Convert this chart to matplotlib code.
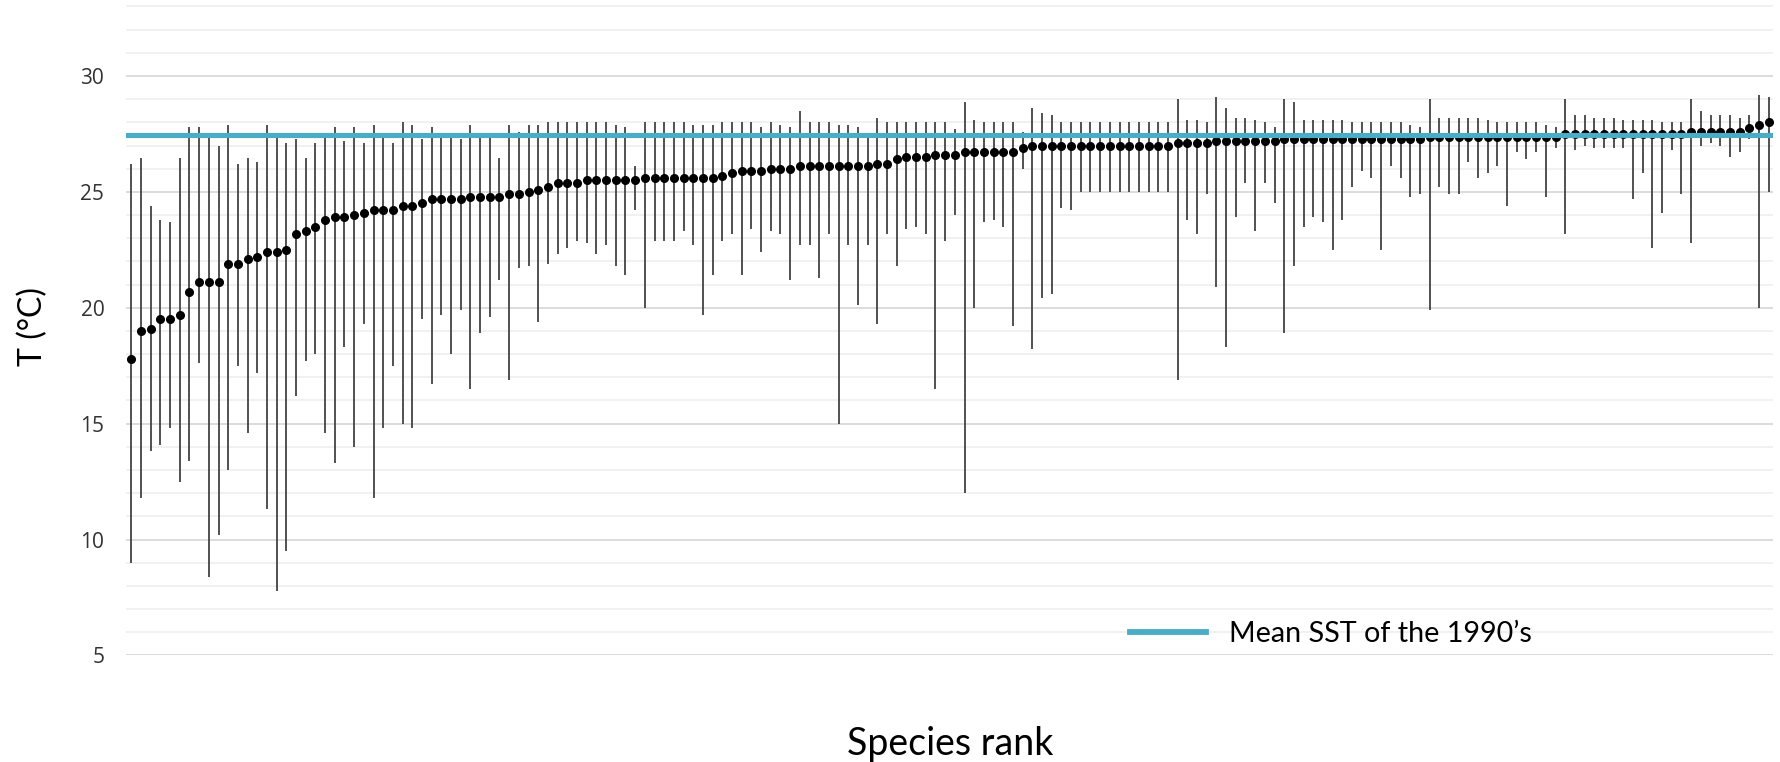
import numpy as np
import matplotlib
matplotlib.use("Agg")
import matplotlib.pyplot as plt
from matplotlib.lines import Line2D

# Thermal range of each species: mean temperature, upper and lower limits (°C),
# species ordered by mean temperature
mean_temp = [
    17.8, 19.0, 19.1, 19.5, 19.5, 19.7, 20.7, 21.1, 21.1, 21.1,
    21.9, 21.9, 22.1, 22.2, 22.4, 22.4, 22.5, 23.2, 23.3, 23.5,
    23.8, 23.9, 23.9, 24.0, 24.1, 24.2, 24.2, 24.2, 24.4, 24.4,
    24.5, 24.7, 24.7, 24.7, 24.7, 24.8, 24.8, 24.8, 24.8, 24.9,
    24.9, 25.0, 25.1, 25.2, 25.4, 25.4, 25.4, 25.5, 25.5, 25.5,
    25.5, 25.5, 25.5, 25.6, 25.6, 25.6, 25.6, 25.6, 25.6, 25.6,
    25.6, 25.7, 25.8, 25.9, 25.9, 25.9, 26.0, 26.0, 26.0, 26.1,
    26.1, 26.1, 26.1, 26.1, 26.1, 26.1, 26.1, 26.2, 26.2, 26.4,
    26.5, 26.5, 26.5, 26.6, 26.6, 26.6, 26.7, 26.7, 26.7, 26.7,
    26.7, 26.7, 26.9, 27.0, 27.0, 27.0, 27.0, 27.0, 27.0, 27.0,
    27.0, 27.0, 27.0, 27.0, 27.0, 27.0, 27.0, 27.0, 27.1, 27.1,
    27.1, 27.1, 27.2, 27.2, 27.2, 27.2, 27.2, 27.2, 27.2, 27.3,
    27.3, 27.3, 27.3, 27.3, 27.3, 27.3, 27.3, 27.3, 27.3, 27.3,
    27.3, 27.3, 27.3, 27.3, 27.35, 27.35, 27.35, 27.35, 27.35, 27.35,
    27.35, 27.35, 27.35, 27.35, 27.35, 27.35, 27.35, 27.35, 27.5, 27.5,
    27.5, 27.5, 27.5, 27.5, 27.5, 27.5, 27.5, 27.5, 27.5, 27.5,
    27.5, 27.6, 27.6, 27.6, 27.6, 27.6, 27.6, 27.75, 27.9, 28.0,
]

max_temp = [
    26.2, 26.45, 24.4, 23.8, 23.7, 26.45, 27.8, 27.8, 27.4, 27.0,
    27.9, 26.2, 26.45, 26.3, 27.9, 27.4, 27.1, 27.3, 26.45, 27.1,
    27.4, 27.8, 27.2, 27.8, 27.1, 27.9, 27.4, 27.1, 28.0, 27.9,
    27.3, 27.8, 27.4, 27.4, 27.3, 27.9, 27.4, 27.4, 26.45, 27.9,
    27.6, 27.9, 27.9, 28.0, 28.0, 28.0, 28.0, 28.0, 28.0, 28.0,
    27.9, 27.8, 26.1, 28.0, 28.0, 28.0, 28.0, 28.0, 27.9, 27.9,
    27.9, 28.0, 28.0, 28.0, 28.0, 27.8, 28.0, 27.9, 27.8, 28.5,
    28.0, 28.0, 28.0, 27.9, 27.9, 27.8, 27.4, 28.2, 28.0, 28.0,
    28.0, 28.0, 28.0, 28.0, 28.0, 27.7, 28.9, 28.1, 28.0, 28.0,
    28.0, 28.0, 27.6, 28.6, 28.4, 28.3, 28.0, 28.0, 28.0, 28.0,
    28.0, 28.0, 28.0, 28.0, 28.0, 28.0, 28.0, 28.0, 29.0, 28.1,
    28.1, 28.0, 29.1, 28.6, 28.2, 28.2, 28.1, 28.0, 27.8, 29.0,
    28.9, 28.1, 28.1, 28.1, 28.1, 28.1, 28.0, 28.0, 28.0, 28.0,
    28.0, 28.0, 27.9, 27.8, 29.0, 28.2, 28.2, 28.2, 28.2, 28.2,
    28.1, 28.0, 28.0, 28.0, 28.0, 28.0, 27.9, 27.8, 29.0, 28.3,
    28.3, 28.2, 28.2, 28.2, 28.1, 28.1, 28.1, 28.1, 28.0, 28.0,
    28.0, 29.0, 28.5, 28.3, 28.3, 28.3, 28.2, 28.3, 29.2, 29.1,
]

min_temp = [
    9.0, 11.8, 13.8, 14.1, 14.8, 12.5, 13.4, 17.6, 8.4, 10.2,
    13.0, 17.5, 14.6, 17.2, 11.3, 7.8, 9.5, 16.2, 17.7, 18.0,
    14.6, 13.3, 18.3, 14.0, 19.3, 11.8, 14.8, 17.5, 15.0, 14.8,
    19.5, 16.7, 19.7, 18.0, 19.9, 16.5, 18.9, 19.6, 21.2, 16.9,
    21.7, 21.8, 19.4, 21.9, 22.3, 22.6, 22.9, 22.8, 22.3, 22.7,
    21.8, 21.4, 24.2, 20.0, 22.9, 22.9, 22.9, 23.3, 22.7, 19.7,
    21.4, 22.9, 23.2, 21.4, 23.4, 22.4, 23.3, 23.2, 21.2, 22.7,
    22.7, 21.3, 23.2, 15.0, 22.7, 20.1, 22.7, 19.3, 23.2, 21.8,
    23.4, 23.5, 23.2, 16.5, 22.9, 24.0, 12.0, 20.0, 23.7, 23.8,
    23.5, 19.2, 26.0, 18.2, 20.4, 20.6, 24.3, 24.2, 25.0, 25.0,
    25.0, 25.0, 25.0, 25.0, 25.0, 25.0, 25.0, 25.0, 16.9, 23.8,
    23.2, 24.9, 20.9, 18.3, 23.9, 25.4, 23.3, 25.4, 24.5, 18.9,
    21.8, 23.5, 23.9, 23.7, 22.5, 23.8, 25.2, 25.9, 25.6, 22.5,
    26.1, 25.6, 24.8, 24.9, 19.9, 25.2, 24.9, 24.9, 26.3, 25.6,
    25.8, 26.1, 24.4, 26.7, 26.4, 26.7, 24.8, 26.9, 23.2, 26.8,
    27.0, 26.9, 26.9, 26.9, 26.9, 24.7, 25.8, 22.6, 24.1, 26.8,
    24.9, 22.8, 27.0, 27.1, 27.0, 26.5, 26.7, 27.3, 20.0, 25.0,
]

mean_sst_1990s = 27.45
sst_label = "Mean SST of the 1990\u2019s"
y_ticks = [5, 10, 15, 20, 25, 30]

rank = np.arange(1, len(mean_temp) + 1)

fig = plt.figure(figsize=(17.81, 7.62), dpi=100)
W, H = 1781, 762
ax = fig.add_axes([126.5 / W, 1 - 655.4 / H, 1647 / W, 655.4 / H])

# Range bars and mean dots
ax.vlines(rank, min_temp, max_temp, colors="#3c3c3c", linewidth=1.25, zorder=3)
ax.plot(rank, mean_temp, "o", color="black", markersize=5.5, zorder=4)

# Reference SST line, drawn over the points
sst_color = "#4bacc6"
ax.axhline(mean_sst_1990s, color=sst_color, linewidth=3.7, zorder=5)

ax.set_xlim(0.5, len(mean_temp) + 0.5)
ax.set_ylim(5, 33.28)
ax.set_xticks([])
ax.set_yticks(y_ticks)
ax.set_yticks(np.arange(5, 34, 1), minor=True)
ax.grid(which="major", axis="y", color="#d9d9d9", linewidth=1.3, zorder=0)
ax.grid(which="minor", axis="y", color="#eeeeee", linewidth=1.1, zorder=0)
ax.set_axisbelow(True)
for s in ax.spines.values():
    s.set_visible(False)
ax.tick_params(axis="y", which="both", length=0, pad=16)
for lbl in ax.get_yticklabels():
    lbl.set_fontfamily("Open Sans")
    lbl.set_fontsize(15)
    lbl.set_color("#333333")

fig.text(33 / W, 1 - 326 / H, "T (\u00b0C)", rotation=90, ha="center", va="center",
         fontsize=23, family="Lato", color="black")
fig.text(950 / W, 1 - 744 / H, "Species rank", ha="center", va="center",
         fontsize=27, family="Lato", color="black")

leg_pt = 20.7
fs_px = leg_pt * 100 / 72
handle = Line2D([], [], color=sst_color, linewidth=4.2)
leg = ax.legend([handle], [sst_label], loc="center left",
                bbox_to_anchor=(1130 / W, 1 - 634 / H), bbox_transform=fig.transFigure,
                frameon=False, borderpad=0, borderaxespad=0,
                handlelength=76 / fs_px, handletextpad=23 / fs_px,
                prop={"family": "Lato", "size": leg_pt})

fig.savefig("out.png", dpi=100, facecolor="white")
